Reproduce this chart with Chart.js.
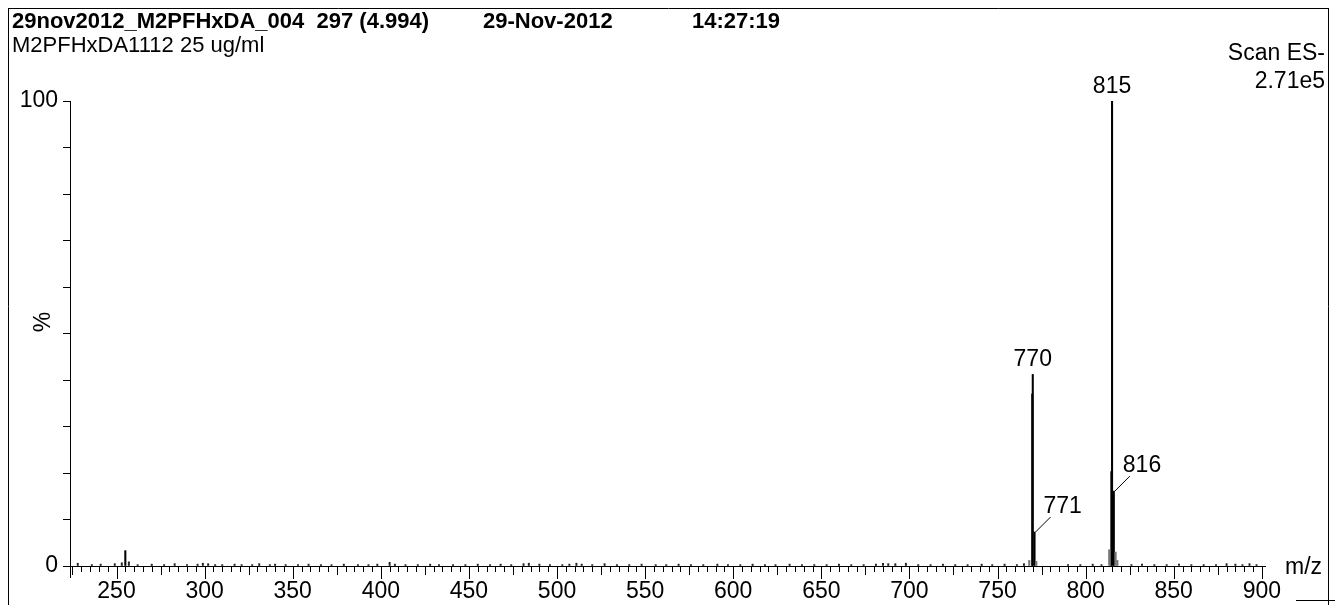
<!DOCTYPE html>
<html><head><meta charset="utf-8">
<script src="https://cdn.jsdelivr.net/npm/chart.js@4/dist/chart.umd.min.js"></script>
<style>html,body{margin:0;padding:0;background:#fff}#wrap{width:1335px;height:605px;position:relative}canvas{display:block}</style>
</head><body><div id="wrap"><canvas id="c" width="1335" height="605"></canvas></div>
<script>
// ---- header texts ----
const titleText = "29nov2012_M2PFHxDA_004  297 (4.994)";
const dateText = "29-Nov-2012";
const timeText = "14:27:19";
const sampleText = "M2PFHxDA1112 25 ug/ml";
const scanLines = ["Scan ES-", "2.71e5"];
const xAxisTitle = "m/z";
const yAxisTitle = "%";

// ---- axis ticks ----
const xTickLabels = [250, 300, 350, 400, 450, 500, 550, 600, 650, 700, 750, 800, 850, 900];
const yTickValues = [0, 10, 20, 30, 40, 50, 60, 70, 80, 90, 100];
const yTickLabels = [0, 100];

// ---- main peaks (m/z, relative intensity %) ----
const peakMz  = [255, 769.7, 770, 771, 814.6, 815, 816];
const peakInt = [3.3, 37, 41.2, 7.3, 20.3, 100, 16.1];
const peakLabelMz = [770, 771, 815, 816];

// ---- grey shoulder sticks around the main peaks ----
const shoulderMz  = [768, 772, 813.4, 817, 818];
const shoulderInt = [1.2, 1.0, 3.5, 3.0, 1.2];

// ---- baseline noise sticks ----
const noiseMz = [
  228, 236, 241, 249, 253, 257, 262, 270, 277, 283,
  290, 296, 299, 302, 306, 310, 317, 321, 327, 331,
  337, 340, 346, 353, 359, 366, 372, 379, 387, 393,
  398, 405, 408, 414, 421, 428, 433, 441, 448, 455,
  462, 468, 474, 481, 484, 490, 496, 503, 507, 511,
  514, 520, 527, 534, 541, 548, 556, 562, 569, 576,
  583, 591, 597, 604, 611, 618, 624, 632, 639, 646,
  653, 660, 667, 674, 681, 685, 688, 692, 698, 705,
  712, 719, 726, 733, 741, 747, 754, 761, 765, 790,
  797, 804, 809, 826, 832, 839, 846, 853, 860, 867,
  874, 880, 885, 889, 893, 897];
const noiseInt = [
  0.6, 0.3, 0.4, 0.5, 0.7, 0.9, 0.3, 0.4, 0.3, 0.5,
  0.3, 0.4, 0.6, 0.5, 0.3, 0.3, 0.4, 0.3, 0.3, 0.5,
  0.3, 0.4, 0.3, 0.3, 0.4, 0.3, 0.3, 0.4, 0.3, 0.3,
  0.4, 0.8, 0.4, 0.3, 0.3, 0.4, 0.3, 0.3, 0.3, 0.4,
  0.3, 0.4, 0.3, 0.5, 0.6, 0.4, 0.3, 0.3, 0.4, 0.6,
  0.4, 0.3, 0.5, 0.3, 0.3, 0.4, 0.3, 0.3, 0.4, 0.3,
  0.3, 0.4, 0.3, 0.3, 0.4, 0.3, 0.3, 0.4, 0.3, 0.3,
  0.3, 0.4, 0.3, 0.3, 0.4, 0.6, 0.5, 0.5, 0.6, 0.3,
  0.3, 0.4, 0.3, 0.3, 0.4, 0.3, 0.4, 0.3, 0.5, 0.3,
  0.3, 0.4, 0.3, 0.3, 0.4, 0.3, 0.3, 0.4, 0.3, 0.3,
  0.3, 0.5, 0.4, 0.3, 0.5, 0.3];

const FONT = '"Liberation Sans", Arial, Helvetica, sans-serif';
const toXY = (xs, ys) => xs.map((v, i) => ({x: v, y: ys[i]}));

const decor = {
  id: 'spectrumDecor',
  afterDraw(chart) {
    const {ctx, scales: {x, y}} = chart;
    const line = (x1, y1, x2, y2) => { ctx.beginPath(); ctx.moveTo(x1, y1); ctx.lineTo(x2, y2); ctx.stroke(); };
    ctx.save();
    ctx.strokeStyle = '#000'; ctx.fillStyle = '#000'; ctx.lineWidth = 1;
    // frame
    line(8.5, 8, 8.5, 605);
    line(8, 8.5, 1329, 8.5);
    line(1328.5, 8, 1328.5, 605);
    line(1296, 600.5, 1335, 600.5);
    // header
    ctx.textBaseline = 'alphabetic';
    ctx.textAlign = 'left';
    ctx.font = 'bold 22px ' + FONT;
    ctx.fillText(titleText, 12, 28);
    ctx.fillText(dateText, 483, 28);
    ctx.fillText(timeText, 692, 28);
    ctx.font = '22px ' + FONT;
    ctx.fillText(sampleText, 12, 52);
    ctx.textAlign = 'right';
    ctx.font = '23px ' + FONT;
    ctx.fillText(scanLines[0], 1325, 60);
    ctx.fillText(scanLines[1], 1325, 88);
    // x ticks (below axis)
    const y0 = Math.round(y.getPixelForValue(0));
    for (let v = Math.ceil(x.min / 5) * 5; v <= x.max; v += 5) {
      const px = Math.round(x.getPixelForValue(v)) + 0.5;
      const len = v % 50 === 0 ? 13 : (v % 25 === 0 ? 9 : 6);
      line(px, y0, px, y0 + len);
    }
    // y axis continues a little below baseline
    const xl = Math.round(x.getPixelForValue(x.min)) + 0.5;
    line(xl, y0, xl, y0 + 12);
    // peak labels
    ctx.font = '23px ' + FONT;
    peakLabelMz.forEach(m => {
      const idx = peakMz.indexOf(m);
      const px = x.getPixelForValue(m);
      const py = y.getPixelForValue(peakInt[idx]);
      if (peakLabelMz.includes(m - 1)) {
        line(px + 1, py, px + 16, py - 15);
        ctx.textAlign = 'left';
        ctx.fillText(String(m), px + 9, py - 19);
      } else {
        ctx.textAlign = 'center';
        ctx.fillText(String(m), px, py - 8);
      }
    });
    // axis titles
    ctx.textAlign = 'left';
    ctx.fillText(xAxisTitle, 1285, 574);
    ctx.save();
    ctx.translate(44, 322);
    ctx.rotate(-Math.PI / 2);
    ctx.textAlign = 'center';
    ctx.textBaseline = 'middle';
    ctx.fillText(yAxisTitle, 0, 0);
    ctx.restore();
    ctx.restore();
  }
};

new Chart(document.getElementById('c'), {
  type: 'bar',
  data: {
    datasets: [
      {data: toXY(noiseMz, noiseInt), backgroundColor: '#222', barThickness: 1.3, grouped: false},
      {data: toXY(shoulderMz, shoulderInt), backgroundColor: '#777', barThickness: 1.5, grouped: false},
      {data: toXY(peakMz, peakInt), backgroundColor: '#000', barThickness: 1.4, grouped: false}
    ]
  },
  options: {
    responsive: false,
    animation: false,
    devicePixelRatio: 1,
    layout: {padding: {left: 0, right: 70, top: 101, bottom: 0}},
    plugins: {legend: {display: false}, tooltip: {enabled: false}, title: {display: false}},
    scales: {
      x: {
        type: 'linear', min: 223.6, max: 901.8, offset: false,
        grid: {display: false, drawTicks: false},
        border: {display: true, color: '#000', width: 1},
        afterBuildTicks: s => { s.ticks = xTickLabels.map(v => ({value: v})); },
        afterFit: s => { s.height = 39; },
        ticks: {autoSkip: false, maxRotation: 0, minRotation: 0, padding: 12, color: '#000',
                font: {family: FONT, size: 23}, callback: v => String(v)}
      },
      y: {
        type: 'linear', min: 0, max: 100,
        grid: {display: true, drawOnChartArea: false, drawTicks: true, tickLength: 7, color: '#000'},
        border: {display: true, color: '#000', width: 1},
        afterBuildTicks: s => { s.ticks = yTickValues.map(v => ({value: v})); },
        afterFit: s => { s.width = 70; },
        ticks: {autoSkip: false, padding: 5, color: '#000', font: {family: FONT, size: 23},
                callback: v => yTickLabels.includes(v) ? String(v) : ''}
      }
    }
  },
  plugins: [decor]
});
</script>
</body></html>
